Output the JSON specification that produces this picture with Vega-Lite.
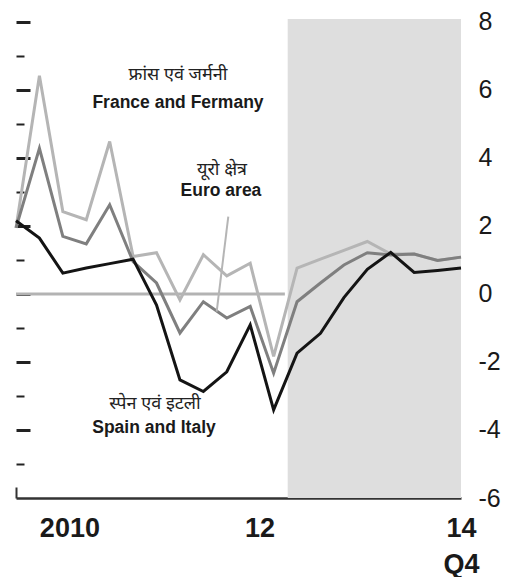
{
  "$schema": "https://vega.github.io/schema/vega-lite/v6.json",
  "width": 445,
  "height": 479,
  "autosize": "none",
  "padding": {"left": 16, "top": 19, "right": 46, "bottom": 79},
  "background": "white",
  "config": {"view": {"stroke": null}},
  "datasets": {
    "series": [
      {"t": 2010.00, "series": "France and Germany", "value": 1.94},
      {"t": 2010.25, "series": "France and Germany", "value": 6.41},
      {"t": 2010.50, "series": "France and Germany", "value": 2.42},
      {"t": 2010.75, "series": "France and Germany", "value": 2.18},
      {"t": 2011.00, "series": "France and Germany", "value": 4.48},
      {"t": 2011.25, "series": "France and Germany", "value": 1.10},
      {"t": 2011.50, "series": "France and Germany", "value": 1.21},
      {"t": 2011.75, "series": "France and Germany", "value": -0.18},
      {"t": 2012.00, "series": "France and Germany", "value": 1.15},
      {"t": 2012.25, "series": "France and Germany", "value": 0.53},
      {"t": 2012.50, "series": "France and Germany", "value": 0.90},
      {"t": 2012.75, "series": "France and Germany", "value": -1.84},
      {"t": 2013.00, "series": "France and Germany", "value": 0.76},
      {"t": 2013.25, "series": "France and Germany", "value": 1.02},
      {"t": 2013.50, "series": "France and Germany", "value": 1.28},
      {"t": 2013.75, "series": "France and Germany", "value": 1.54},
      {"t": 2014.00, "series": "France and Germany", "value": 1.17},
      {"t": 2014.25, "series": "France and Germany", "value": 1.17},
      {"t": 2014.50, "series": "France and Germany", "value": 0.98},
      {"t": 2014.75, "series": "France and Germany", "value": 1.08},
      {"t": 2010.00, "series": "Euro area", "value": 1.94},
      {"t": 2010.25, "series": "Euro area", "value": 4.28},
      {"t": 2010.50, "series": "Euro area", "value": 1.69},
      {"t": 2010.75, "series": "Euro area", "value": 1.47},
      {"t": 2011.00, "series": "Euro area", "value": 2.62},
      {"t": 2011.25, "series": "Euro area", "value": 0.95},
      {"t": 2011.50, "series": "Euro area", "value": 0.32},
      {"t": 2011.75, "series": "Euro area", "value": -1.15},
      {"t": 2012.00, "series": "Euro area", "value": -0.23},
      {"t": 2012.25, "series": "Euro area", "value": -0.71},
      {"t": 2012.50, "series": "Euro area", "value": -0.37},
      {"t": 2012.75, "series": "Euro area", "value": -2.33},
      {"t": 2013.00, "series": "Euro area", "value": -0.23},
      {"t": 2013.25, "series": "Euro area", "value": 0.32},
      {"t": 2013.50, "series": "Euro area", "value": 0.85},
      {"t": 2013.75, "series": "Euro area", "value": 1.21},
      {"t": 2014.00, "series": "Euro area", "value": 1.14},
      {"t": 2014.25, "series": "Euro area", "value": 1.17},
      {"t": 2014.50, "series": "Euro area", "value": 0.98},
      {"t": 2014.75, "series": "Euro area", "value": 1.08},
      {"t": 2010.00, "series": "Spain and Italy", "value": 2.15},
      {"t": 2010.25, "series": "Spain and Italy", "value": 1.64},
      {"t": 2010.50, "series": "Spain and Italy", "value": 0.61},
      {"t": 2010.75, "series": "Spain and Italy", "value": 0.76},
      {"t": 2011.00, "series": "Spain and Italy", "value": 0.89},
      {"t": 2011.25, "series": "Spain and Italy", "value": 1.02},
      {"t": 2011.50, "series": "Spain and Italy", "value": -0.33},
      {"t": 2011.75, "series": "Spain and Italy", "value": -2.53},
      {"t": 2012.00, "series": "Spain and Italy", "value": -2.87},
      {"t": 2012.25, "series": "Spain and Italy", "value": -2.29},
      {"t": 2012.50, "series": "Spain and Italy", "value": -0.91},
      {"t": 2012.75, "series": "Spain and Italy", "value": -3.41},
      {"t": 2013.00, "series": "Spain and Italy", "value": -1.74},
      {"t": 2013.25, "series": "Spain and Italy", "value": -1.16},
      {"t": 2013.50, "series": "Spain and Italy", "value": -0.11},
      {"t": 2013.75, "series": "Spain and Italy", "value": 0.72},
      {"t": 2014.00, "series": "Spain and Italy", "value": 1.22},
      {"t": 2014.25, "series": "Spain and Italy", "value": 0.63},
      {"t": 2014.50, "series": "Spain and Italy", "value": 0.69},
      {"t": 2014.75, "series": "Spain and Italy", "value": 0.76}
    ],
    "shade": [{"start": 2012.9, "end": 2014.75}],
    "zero": [{"start": 2010, "end": 2012.87, "v": 0}],
    "leader": [{"t": 2012.266, "v": 2.27, "t2": 2012.142, "v2": -0.52}],
    "hindi": [
      {"t": 2011.729, "v": 6.43, "label": "फ्रांस एवं जर्मनी"},
      {"t": 2012.199, "v": 3.64, "label": "यूरो क्षेत्र"},
      {"t": 2011.484, "v": -3.24, "label": "स्पेन एवं इटली"}
    ],
    "english": [
      {"t": 2011.729, "v": 5.60, "label": "France and Fermany"},
      {"t": 2012.188, "v": 3.02, "label": "Euro area"},
      {"t": 2011.473, "v": -3.94, "label": "Spain and Italy"}
    ]
  },
  "resolve": {"axis": {"y": "independent"}},
  "encoding": {
    "x": {"field": "t", "type": "quantitative",
      "scale": {"domain": [2010, 2014.75], "nice": false, "zero": false},
      "axis": {
        "title": null, "grid": false,
        "values": [2010, 2010.57, 2012.6, 2014.75],
        "labelExpr": "datum.value == 2010 ? '' : datum.value < 2011 ? '2010' : datum.value < 2013 ? '12' : ['14', 'Q4']",
        "labelFlush": false, "labelOverlap": false, "labelBound": false,
        "labelFont": "Liberation Sans", "labelFontWeight": "bold", "labelFontSize": 27,
        "labelColor": "#1a1a1a", "labelLineHeight": 36, "labelPadding": 28,
        "domainColor": "#333", "domainWidth": 2.5,
        "tickColor": "#333", "tickWidth": 2, "tickSize": -11,
        "tickOpacity": {"condition": {"test": "datum.value == 2010", "value": 1}, "value": 0}
      }
    }
  },
  "layer": [
    {
      "data": {"name": "shade"},
      "mark": {"type": "rect", "color": "#dedede"},
      "encoding": {
        "x": {"field": "start", "type": "quantitative"},
        "x2": {"field": "end"}
      }
    },
    {
      "data": {"name": "zero"},
      "mark": {"type": "rule", "color": "#b3b3b3", "strokeWidth": 3},
      "encoding": {
        "x": {"field": "start", "type": "quantitative"},
        "x2": {"field": "end"},
        "y": {"field": "v", "type": "quantitative",
          "scale": {"domain": [-6, 8.08], "nice": false, "zero": false},
          "axis": {
            "orient": "left", "title": null, "labels": false, "domain": false, "grid": false,
            "values": [-5, -4, -3, -2, -1, 0, 1, 2, 3, 4, 5, 6, 7, 8],
            "tickColor": "#222",
            "tickSize": {"condition": {"test": "datum.value % 2 == 0", "value": -14}, "value": -8},
            "tickWidth": {"condition": {"test": "datum.value % 2 == 0", "value": 3}, "value": 2}
          }
        }
      }
    },
    {
      "data": {"name": "series"},
      "mark": {"type": "line", "strokeWidth": 3, "strokeJoin": "miter"},
      "encoding": {
        "y": {"field": "value", "type": "quantitative",
          "axis": {
            "orient": "right", "title": null, "grid": false, "domain": false, "ticks": false, "tickSize": 0,
            "values": [-6, -4, -2, 0, 2, 4, 6, 8],
            "labelExpr": "replace(datum.label, '\u2212', '-')",
            "labelFont": "Liberation Sans", "labelFontSize": 25, "labelColor": "#1a1a1a",
            "labelAlign": "left", "labelBaseline": "middle", "labelPadding": 17,
            "labelOverlap": false, "labelBound": false, "labelFlush": false
          }
        },
        "color": {"field": "series", "type": "nominal", "legend": null,
          "scale": {"domain": ["France and Germany", "Euro area", "Spain and Italy"], "range": ["#b5b5b5", "#7f7f7f", "#141414"]}}
      }
    },
    {
      "data": {"name": "leader"},
      "mark": {"type": "rule", "color": "#b5b5b5", "strokeWidth": 2},
      "encoding": {
        "x2": {"field": "t2"},
        "y": {"field": "v", "type": "quantitative", "axis": null},
        "y2": {"field": "v2"}
      }
    },
    {
      "data": {"name": "hindi"},
      "mark": {"type": "text", "font": "Noto Sans", "fontSize": 18, "color": "#222", "align": "center", "baseline": "middle"},
      "encoding": {
        "y": {"field": "v", "type": "quantitative", "axis": null},
        "text": {"field": "label"}
      }
    },
    {
      "data": {"name": "english"},
      "mark": {"type": "text", "font": "Liberation Sans", "fontWeight": "bold", "fontSize": 17.5, "color": "#1a1a1a", "align": "center", "baseline": "middle"},
      "encoding": {
        "y": {"field": "v", "type": "quantitative", "axis": null},
        "text": {"field": "label"}
      }
    }
  ]
}
